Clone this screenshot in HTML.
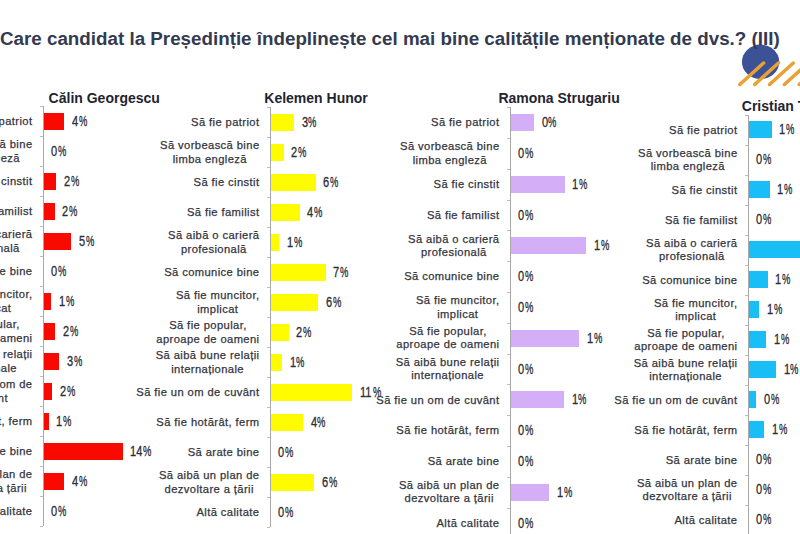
<!DOCTYPE html>
<html><head><meta charset="utf-8"><style>
html,body{margin:0;padding:0;background:#fff;}
body{width:800px;height:534px;overflow:hidden;position:relative;font-family:"Liberation Sans",sans-serif;}
.a{position:absolute;white-space:nowrap;}
.t{font-weight:700;color:#343a50;}
.pt{font-size:14px;line-height:16px;font-weight:700;color:#1f2433;}
.lb{font-size:11.2px;line-height:13.25px;letter-spacing:0.4px;color:#33353d;text-align:center;-webkit-text-stroke:0.25px #33353d;}
.pc{font-size:13.8px;line-height:15px;color:#2b2d36;-webkit-text-stroke:0.3px #2b2d36;transform:scaleX(0.8);transform-origin:0 0;}
.pp{font-size:13.8px;line-height:15px;color:#2b2d36;-webkit-text-stroke:0.3px #2b2d36;transform:scaleX(0.68);transform-origin:0 0;}
.ax{background:#a8a8a8;}
</style></head><body>

<svg class="a" style="left:720px;top:36px" width="80" height="60" viewBox="720 36 80 60"><ellipse cx="760.6" cy="61.8" rx="18.7" ry="17.2" fill="#3b5296"/><g stroke="#e9a131" stroke-width="3.5" stroke-linecap="round"><line x1="739.80" y1="84.5" x2="763.60" y2="63"/><line x1="754.65" y1="84.5" x2="778.45" y2="63"/><line x1="769.50" y1="84.5" x2="793.30" y2="63"/><line x1="784.35" y1="84.5" x2="808.15" y2="63"/><line x1="799.20" y1="84.5" x2="823.00" y2="63"/></g></svg>
<div class="a t" style="left:0px;top:28px;font-size:18.8px;line-height:22px;">Care candidat la Președinție îndeplinește cel mai bine calitățile menționate de dvs.? (III)</div>
<div class="a pt" style="left:48.6px;top:89.65px">Călin Georgescu</div>
<div class="a ax" style="left:43px;top:106.4px;width:1px;height:420.0px"></div>
<div class="a ax" style="left:40px;top:106.40px;width:3px;height:1px;background:#bdbdbd"></div>
<div class="a ax" style="left:40px;top:136.40px;width:3px;height:1px;background:#bdbdbd"></div>
<div class="a ax" style="left:40px;top:166.40px;width:3px;height:1px;background:#bdbdbd"></div>
<div class="a ax" style="left:40px;top:196.40px;width:3px;height:1px;background:#bdbdbd"></div>
<div class="a ax" style="left:40px;top:226.40px;width:3px;height:1px;background:#bdbdbd"></div>
<div class="a ax" style="left:40px;top:256.40px;width:3px;height:1px;background:#bdbdbd"></div>
<div class="a ax" style="left:40px;top:286.40px;width:3px;height:1px;background:#bdbdbd"></div>
<div class="a ax" style="left:40px;top:316.40px;width:3px;height:1px;background:#bdbdbd"></div>
<div class="a ax" style="left:40px;top:346.40px;width:3px;height:1px;background:#bdbdbd"></div>
<div class="a ax" style="left:40px;top:376.40px;width:3px;height:1px;background:#bdbdbd"></div>
<div class="a ax" style="left:40px;top:406.40px;width:3px;height:1px;background:#bdbdbd"></div>
<div class="a ax" style="left:40px;top:436.40px;width:3px;height:1px;background:#bdbdbd"></div>
<div class="a ax" style="left:40px;top:466.40px;width:3px;height:1px;background:#bdbdbd"></div>
<div class="a ax" style="left:40px;top:496.40px;width:3px;height:1px;background:#bdbdbd"></div>
<div class="a ax" style="left:40px;top:526.40px;width:3px;height:1px;background:#bdbdbd"></div>
<div class="a lb" style="right:767.50px;top:115.10px">Să fie patriot</div>
<div class="a" style="left:44px;top:112.70px;width:20px;height:17px;background:#f80a00"></div>
<div class="a pc" style="left:71.80px;top:114.00px">4</div>
<div class="a pp" style="left:78.54px;top:114.00px">%</div>
<div class="a lb" style="right:767.50px;top:138.40px">Să vorbească bine<br>limba engleză</div>
<div class="a pc" style="left:51.30px;top:144.00px">0</div>
<div class="a pp" style="left:58.04px;top:144.00px">%</div>
<div class="a lb" style="right:767.50px;top:175.10px">Să fie cinstit</div>
<div class="a" style="left:44px;top:172.70px;width:12px;height:17px;background:#f80a00"></div>
<div class="a pc" style="left:63.80px;top:174.00px">2</div>
<div class="a pp" style="left:70.54px;top:174.00px">%</div>
<div class="a lb" style="right:767.50px;top:205.10px">Să fie familist</div>
<div class="a" style="left:44px;top:202.70px;width:10.5px;height:17px;background:#f80a00"></div>
<div class="a pc" style="left:62.30px;top:204.00px">2</div>
<div class="a pp" style="left:69.04px;top:204.00px">%</div>
<div class="a lb" style="right:767.50px;top:228.40px">Să aibă o carieră<br>profesională</div>
<div class="a" style="left:44px;top:232.70px;width:27px;height:17px;background:#f80a00"></div>
<div class="a pc" style="left:78.80px;top:234.00px">5</div>
<div class="a pp" style="left:85.54px;top:234.00px">%</div>
<div class="a lb" style="right:767.50px;top:265.10px">Să comunice bine</div>
<div class="a pc" style="left:51.30px;top:264.00px">0</div>
<div class="a pp" style="left:58.04px;top:264.00px">%</div>
<div class="a lb" style="right:767.50px;top:288.40px">Să fie muncitor,<br>implicat</div>
<div class="a" style="left:44px;top:292.70px;width:7px;height:17px;background:#f80a00"></div>
<div class="a pc" style="left:58.80px;top:294.00px">1</div>
<div class="a pp" style="left:65.54px;top:294.00px">%</div>
<div class="a lb" style="right:767.50px;top:318.40px">Să fie popular,<br>aproape de oameni</div>
<div class="a" style="left:44px;top:322.70px;width:11px;height:17px;background:#f80a00"></div>
<div class="a pc" style="left:62.80px;top:324.00px">2</div>
<div class="a pp" style="left:69.54px;top:324.00px">%</div>
<div class="a lb" style="right:767.50px;top:348.40px">Să aibă bune relații<br>internaționale</div>
<div class="a" style="left:44px;top:352.70px;width:15px;height:17px;background:#f80a00"></div>
<div class="a pc" style="left:66.80px;top:354.00px">3</div>
<div class="a pp" style="left:73.54px;top:354.00px">%</div>
<div class="a lb" style="right:767.50px;top:378.40px">Să fie un om de<br>cuvânt</div>
<div class="a" style="left:44px;top:382.70px;width:8px;height:17px;background:#f80a00"></div>
<div class="a pc" style="left:59.80px;top:384.00px">2</div>
<div class="a pp" style="left:66.54px;top:384.00px">%</div>
<div class="a lb" style="right:767.50px;top:415.10px">Să fie hotărât, ferm</div>
<div class="a" style="left:44px;top:412.70px;width:4.5px;height:17px;background:#f80a00"></div>
<div class="a pc" style="left:56.30px;top:414.00px">1</div>
<div class="a pp" style="left:63.04px;top:414.00px">%</div>
<div class="a lb" style="right:767.50px;top:445.10px">Să arate bine</div>
<div class="a" style="left:44px;top:442.70px;width:78.5px;height:17px;background:#f80a00"></div>
<div class="a pc" style="left:130.30px;top:444.00px">14</div>
<div class="a pp" style="left:143.18px;top:444.00px">%</div>
<div class="a lb" style="right:767.50px;top:468.40px">Să aibă un plan de<br>dezvoltare a țării</div>
<div class="a" style="left:44px;top:472.70px;width:20px;height:17px;background:#f80a00"></div>
<div class="a pc" style="left:71.80px;top:474.00px">4</div>
<div class="a pp" style="left:78.54px;top:474.00px">%</div>
<div class="a lb" style="right:767.50px;top:505.10px">Altă calitate</div>
<div class="a pc" style="left:51.30px;top:504.00px">0</div>
<div class="a pp" style="left:58.04px;top:504.00px">%</div>
<div class="a pt" style="left:264.3px;top:89.65px">Kelemen Hunor</div>
<div class="a ax" style="left:270px;top:107.3px;width:1px;height:420.0px"></div>
<div class="a ax" style="left:267px;top:107.30px;width:3px;height:1px;background:#bdbdbd"></div>
<div class="a ax" style="left:267px;top:137.30px;width:3px;height:1px;background:#bdbdbd"></div>
<div class="a ax" style="left:267px;top:167.30px;width:3px;height:1px;background:#bdbdbd"></div>
<div class="a ax" style="left:267px;top:197.30px;width:3px;height:1px;background:#bdbdbd"></div>
<div class="a ax" style="left:267px;top:227.30px;width:3px;height:1px;background:#bdbdbd"></div>
<div class="a ax" style="left:267px;top:257.30px;width:3px;height:1px;background:#bdbdbd"></div>
<div class="a ax" style="left:267px;top:287.30px;width:3px;height:1px;background:#bdbdbd"></div>
<div class="a ax" style="left:267px;top:317.30px;width:3px;height:1px;background:#bdbdbd"></div>
<div class="a ax" style="left:267px;top:347.30px;width:3px;height:1px;background:#bdbdbd"></div>
<div class="a ax" style="left:267px;top:377.30px;width:3px;height:1px;background:#bdbdbd"></div>
<div class="a ax" style="left:267px;top:407.30px;width:3px;height:1px;background:#bdbdbd"></div>
<div class="a ax" style="left:267px;top:437.30px;width:3px;height:1px;background:#bdbdbd"></div>
<div class="a ax" style="left:267px;top:467.30px;width:3px;height:1px;background:#bdbdbd"></div>
<div class="a ax" style="left:267px;top:497.30px;width:3px;height:1px;background:#bdbdbd"></div>
<div class="a ax" style="left:267px;top:527.30px;width:3px;height:1px;background:#bdbdbd"></div>
<div class="a lb" style="right:540.50px;top:116.00px">Să fie patriot</div>
<div class="a" style="left:271px;top:113.60px;width:22.8px;height:17px;background:#fffc00"></div>
<div class="a pc" style="left:301.60px;top:114.90px">3</div>
<div class="a pp" style="left:308.34px;top:114.90px">%</div>
<div class="a lb" style="right:540.50px;top:139.30px">Să vorbească bine<br>limba engleză</div>
<div class="a" style="left:271px;top:143.60px;width:12.5px;height:17px;background:#fffc00"></div>
<div class="a pc" style="left:291.30px;top:144.90px">2</div>
<div class="a pp" style="left:298.04px;top:144.90px">%</div>
<div class="a lb" style="right:540.50px;top:176.00px">Să fie cinstit</div>
<div class="a" style="left:271px;top:173.60px;width:44.5px;height:17px;background:#fffc00"></div>
<div class="a pc" style="left:323.30px;top:174.90px">6</div>
<div class="a pp" style="left:330.04px;top:174.90px">%</div>
<div class="a lb" style="right:540.50px;top:206.00px">Să fie familist</div>
<div class="a" style="left:271px;top:203.60px;width:28.5px;height:17px;background:#fffc00"></div>
<div class="a pc" style="left:307.30px;top:204.90px">4</div>
<div class="a pp" style="left:314.04px;top:204.90px">%</div>
<div class="a lb" style="right:540.50px;top:229.30px">Să aibă o carieră<br>profesională</div>
<div class="a" style="left:271px;top:233.60px;width:8px;height:17px;background:#fffc00"></div>
<div class="a pc" style="left:286.80px;top:234.90px">1</div>
<div class="a pp" style="left:293.54px;top:234.90px">%</div>
<div class="a lb" style="right:540.50px;top:266.00px">Să comunice bine</div>
<div class="a" style="left:271px;top:263.60px;width:54.5px;height:17px;background:#fffc00"></div>
<div class="a pc" style="left:333.30px;top:264.90px">7</div>
<div class="a pp" style="left:340.04px;top:264.90px">%</div>
<div class="a lb" style="right:540.50px;top:289.30px">Să fie muncitor,<br>implicat</div>
<div class="a" style="left:271px;top:293.60px;width:47px;height:17px;background:#fffc00"></div>
<div class="a pc" style="left:325.80px;top:294.90px">6</div>
<div class="a pp" style="left:332.54px;top:294.90px">%</div>
<div class="a lb" style="right:540.50px;top:319.30px">Să fie popular,<br>aproape de oameni</div>
<div class="a" style="left:271px;top:323.60px;width:17.5px;height:17px;background:#fffc00"></div>
<div class="a pc" style="left:296.30px;top:324.90px">2</div>
<div class="a pp" style="left:303.04px;top:324.90px">%</div>
<div class="a lb" style="right:540.50px;top:349.30px">Să aibă bune relații<br>internaționale</div>
<div class="a" style="left:271px;top:353.60px;width:10.7px;height:17px;background:#fffc00"></div>
<div class="a pc" style="left:289.50px;top:354.90px">1</div>
<div class="a pp" style="left:296.24px;top:354.90px">%</div>
<div class="a lb" style="right:540.50px;top:386.00px">Să fie un om de cuvânt</div>
<div class="a" style="left:271px;top:383.60px;width:81px;height:17px;background:#fffc00"></div>
<div class="a pc" style="left:359.80px;top:384.90px">11</div>
<div class="a pp" style="left:372.68px;top:384.90px">%</div>
<div class="a lb" style="right:540.50px;top:416.00px">Să fie hotărât, ferm</div>
<div class="a" style="left:271px;top:413.60px;width:31.7px;height:17px;background:#fffc00"></div>
<div class="a pc" style="left:310.50px;top:414.90px">4</div>
<div class="a pp" style="left:317.24px;top:414.90px">%</div>
<div class="a lb" style="right:540.50px;top:446.00px">Să arate bine</div>
<div class="a pc" style="left:278.30px;top:444.90px">0</div>
<div class="a pp" style="left:285.04px;top:444.90px">%</div>
<div class="a lb" style="right:540.50px;top:469.30px">Să aibă un plan de<br>dezvoltare a țării</div>
<div class="a" style="left:271px;top:473.60px;width:43px;height:17px;background:#fffc00"></div>
<div class="a pc" style="left:321.80px;top:474.90px">6</div>
<div class="a pp" style="left:328.54px;top:474.90px">%</div>
<div class="a lb" style="right:540.50px;top:506.00px">Altă calitate</div>
<div class="a pc" style="left:278.30px;top:504.90px">0</div>
<div class="a pp" style="left:285.04px;top:504.90px">%</div>
<div class="a pt" style="left:498.4px;top:89.85px">Ramona Strugariu</div>
<div class="a ax" style="left:510px;top:107.2px;width:1px;height:431.2px"></div>
<div class="a ax" style="left:507px;top:107.20px;width:3px;height:1px;background:#bdbdbd"></div>
<div class="a ax" style="left:507px;top:138.00px;width:3px;height:1px;background:#bdbdbd"></div>
<div class="a ax" style="left:507px;top:168.80px;width:3px;height:1px;background:#bdbdbd"></div>
<div class="a ax" style="left:507px;top:199.60px;width:3px;height:1px;background:#bdbdbd"></div>
<div class="a ax" style="left:507px;top:230.40px;width:3px;height:1px;background:#bdbdbd"></div>
<div class="a ax" style="left:507px;top:261.20px;width:3px;height:1px;background:#bdbdbd"></div>
<div class="a ax" style="left:507px;top:292.00px;width:3px;height:1px;background:#bdbdbd"></div>
<div class="a ax" style="left:507px;top:322.80px;width:3px;height:1px;background:#bdbdbd"></div>
<div class="a ax" style="left:507px;top:353.60px;width:3px;height:1px;background:#bdbdbd"></div>
<div class="a ax" style="left:507px;top:384.40px;width:3px;height:1px;background:#bdbdbd"></div>
<div class="a ax" style="left:507px;top:415.20px;width:3px;height:1px;background:#bdbdbd"></div>
<div class="a ax" style="left:507px;top:446.00px;width:3px;height:1px;background:#bdbdbd"></div>
<div class="a ax" style="left:507px;top:476.80px;width:3px;height:1px;background:#bdbdbd"></div>
<div class="a ax" style="left:507px;top:507.60px;width:3px;height:1px;background:#bdbdbd"></div>
<div class="a ax" style="left:507px;top:538.40px;width:3px;height:1px;background:#bdbdbd"></div>
<div class="a lb" style="right:300.50px;top:116.30px">Să fie patriot</div>
<div class="a" style="left:511px;top:113.90px;width:22.7px;height:17px;background:#d5aef8"></div>
<div class="a pc" style="left:541.50px;top:115.20px">0</div>
<div class="a pp" style="left:548.24px;top:115.20px">%</div>
<div class="a lb" style="right:300.50px;top:140.40px">Să vorbească bine<br>limba engleză</div>
<div class="a pc" style="left:518.30px;top:146.00px">0</div>
<div class="a pp" style="left:525.04px;top:146.00px">%</div>
<div class="a lb" style="right:300.50px;top:177.90px">Să fie cinstit</div>
<div class="a" style="left:511px;top:175.50px;width:53.6px;height:17px;background:#d5aef8"></div>
<div class="a pc" style="left:572.40px;top:176.80px">1</div>
<div class="a pp" style="left:579.14px;top:176.80px">%</div>
<div class="a lb" style="right:300.50px;top:208.70px">Să fie familist</div>
<div class="a pc" style="left:518.30px;top:207.60px">0</div>
<div class="a pp" style="left:525.04px;top:207.60px">%</div>
<div class="a lb" style="right:300.50px;top:232.80px">Să aibă o carieră<br>profesională</div>
<div class="a" style="left:511px;top:237.10px;width:75.4px;height:17px;background:#d5aef8"></div>
<div class="a pc" style="left:594.20px;top:238.40px">1</div>
<div class="a pp" style="left:600.94px;top:238.40px">%</div>
<div class="a lb" style="right:300.50px;top:270.30px">Să comunice bine</div>
<div class="a pc" style="left:518.30px;top:269.20px">0</div>
<div class="a pp" style="left:525.04px;top:269.20px">%</div>
<div class="a lb" style="right:300.50px;top:294.40px">Să fie muncitor,<br>implicat</div>
<div class="a pc" style="left:518.30px;top:300.00px">0</div>
<div class="a pp" style="left:525.04px;top:300.00px">%</div>
<div class="a lb" style="right:300.50px;top:325.20px">Să fie popular,<br>aproape de oameni</div>
<div class="a" style="left:511px;top:329.50px;width:68.3px;height:17px;background:#d5aef8"></div>
<div class="a pc" style="left:587.10px;top:330.80px">1</div>
<div class="a pp" style="left:593.84px;top:330.80px">%</div>
<div class="a lb" style="right:300.50px;top:356.00px">Să aibă bune relații<br>internaționale</div>
<div class="a pc" style="left:518.30px;top:361.60px">0</div>
<div class="a pp" style="left:525.04px;top:361.60px">%</div>
<div class="a lb" style="right:300.50px;top:393.50px">Să fie un om de cuvânt</div>
<div class="a" style="left:511px;top:391.10px;width:52.7px;height:17px;background:#d5aef8"></div>
<div class="a pc" style="left:571.50px;top:392.40px">1</div>
<div class="a pp" style="left:578.24px;top:392.40px">%</div>
<div class="a lb" style="right:300.50px;top:424.30px">Să fie hotărât, ferm</div>
<div class="a pc" style="left:518.30px;top:423.20px">0</div>
<div class="a pp" style="left:525.04px;top:423.20px">%</div>
<div class="a lb" style="right:300.50px;top:455.10px">Să arate bine</div>
<div class="a pc" style="left:518.30px;top:454.00px">0</div>
<div class="a pp" style="left:525.04px;top:454.00px">%</div>
<div class="a lb" style="right:300.50px;top:479.20px">Să aibă un plan de<br>dezvoltare a țării</div>
<div class="a" style="left:511px;top:483.50px;width:38px;height:17px;background:#d5aef8"></div>
<div class="a pc" style="left:556.80px;top:484.80px">1</div>
<div class="a pp" style="left:563.54px;top:484.80px">%</div>
<div class="a lb" style="right:300.50px;top:516.70px">Altă calitate</div>
<div class="a pc" style="left:518.30px;top:515.60px">0</div>
<div class="a pp" style="left:525.04px;top:515.60px">%</div>
<div class="a pt" style="left:741.8px;top:97.75px">Cristian Terheș</div>
<div class="a ax" style="left:748px;top:114.8px;width:1px;height:420.0px"></div>
<div class="a ax" style="left:745px;top:114.80px;width:3px;height:1px;background:#bdbdbd"></div>
<div class="a ax" style="left:745px;top:144.80px;width:3px;height:1px;background:#bdbdbd"></div>
<div class="a ax" style="left:745px;top:174.80px;width:3px;height:1px;background:#bdbdbd"></div>
<div class="a ax" style="left:745px;top:204.80px;width:3px;height:1px;background:#bdbdbd"></div>
<div class="a ax" style="left:745px;top:234.80px;width:3px;height:1px;background:#bdbdbd"></div>
<div class="a ax" style="left:745px;top:264.80px;width:3px;height:1px;background:#bdbdbd"></div>
<div class="a ax" style="left:745px;top:294.80px;width:3px;height:1px;background:#bdbdbd"></div>
<div class="a ax" style="left:745px;top:324.80px;width:3px;height:1px;background:#bdbdbd"></div>
<div class="a ax" style="left:745px;top:354.80px;width:3px;height:1px;background:#bdbdbd"></div>
<div class="a ax" style="left:745px;top:384.80px;width:3px;height:1px;background:#bdbdbd"></div>
<div class="a ax" style="left:745px;top:414.80px;width:3px;height:1px;background:#bdbdbd"></div>
<div class="a ax" style="left:745px;top:444.80px;width:3px;height:1px;background:#bdbdbd"></div>
<div class="a ax" style="left:745px;top:474.80px;width:3px;height:1px;background:#bdbdbd"></div>
<div class="a ax" style="left:745px;top:504.80px;width:3px;height:1px;background:#bdbdbd"></div>
<div class="a ax" style="left:745px;top:534.80px;width:3px;height:1px;background:#bdbdbd"></div>
<div class="a lb" style="right:62.50px;top:123.50px">Să fie patriot</div>
<div class="a" style="left:749px;top:121.10px;width:22.6px;height:17px;background:#18bef5"></div>
<div class="a pc" style="left:779.40px;top:122.40px">1</div>
<div class="a pp" style="left:786.14px;top:122.40px">%</div>
<div class="a lb" style="right:62.50px;top:146.80px">Să vorbească bine<br>limba engleză</div>
<div class="a pc" style="left:756.30px;top:152.40px">0</div>
<div class="a pp" style="left:763.04px;top:152.40px">%</div>
<div class="a lb" style="right:62.50px;top:183.50px">Să fie cinstit</div>
<div class="a" style="left:749px;top:181.10px;width:20.6px;height:17px;background:#18bef5"></div>
<div class="a pc" style="left:777.40px;top:182.40px">1</div>
<div class="a pp" style="left:784.14px;top:182.40px">%</div>
<div class="a lb" style="right:62.50px;top:213.50px">Să fie familist</div>
<div class="a pc" style="left:756.30px;top:212.40px">0</div>
<div class="a pp" style="left:763.04px;top:212.40px">%</div>
<div class="a lb" style="right:62.50px;top:236.80px">Să aibă o carieră<br>profesională</div>
<div class="a" style="left:749px;top:241.10px;width:80px;height:17px;background:#18bef5"></div>
<div class="a pc" style="left:836.80px;top:242.40px">3</div>
<div class="a pp" style="left:843.54px;top:242.40px">%</div>
<div class="a lb" style="right:62.50px;top:273.50px">Să comunice bine</div>
<div class="a" style="left:749px;top:271.10px;width:18.5px;height:17px;background:#18bef5"></div>
<div class="a pc" style="left:775.30px;top:272.40px">1</div>
<div class="a pp" style="left:782.04px;top:272.40px">%</div>
<div class="a lb" style="right:62.50px;top:296.80px">Să fie muncitor,<br>implicat</div>
<div class="a" style="left:749px;top:301.10px;width:10px;height:17px;background:#18bef5"></div>
<div class="a pc" style="left:766.80px;top:302.40px">1</div>
<div class="a pp" style="left:773.54px;top:302.40px">%</div>
<div class="a lb" style="right:62.50px;top:326.80px">Să fie popular,<br>aproape de oameni</div>
<div class="a" style="left:749px;top:331.10px;width:17px;height:17px;background:#18bef5"></div>
<div class="a pc" style="left:773.80px;top:332.40px">1</div>
<div class="a pp" style="left:780.54px;top:332.40px">%</div>
<div class="a lb" style="right:62.50px;top:356.80px">Să aibă bune relații<br>internaționale</div>
<div class="a" style="left:749px;top:361.10px;width:26.7px;height:17px;background:#18bef5"></div>
<div class="a pc" style="left:783.50px;top:362.40px">1</div>
<div class="a pp" style="left:790.24px;top:362.40px">%</div>
<div class="a lb" style="right:62.50px;top:393.50px">Să fie un om de cuvânt</div>
<div class="a" style="left:749px;top:391.10px;width:7.4px;height:17px;background:#18bef5"></div>
<div class="a pc" style="left:764.20px;top:392.40px">0</div>
<div class="a pp" style="left:770.94px;top:392.40px">%</div>
<div class="a lb" style="right:62.50px;top:423.50px">Să fie hotărât, ferm</div>
<div class="a" style="left:749px;top:421.10px;width:15px;height:17px;background:#18bef5"></div>
<div class="a pc" style="left:771.80px;top:422.40px">1</div>
<div class="a pp" style="left:778.54px;top:422.40px">%</div>
<div class="a lb" style="right:62.50px;top:453.50px">Să arate bine</div>
<div class="a pc" style="left:756.30px;top:452.40px">0</div>
<div class="a pp" style="left:763.04px;top:452.40px">%</div>
<div class="a lb" style="right:62.50px;top:476.80px">Să aibă un plan de<br>dezvoltare a țării</div>
<div class="a pc" style="left:756.30px;top:482.40px">0</div>
<div class="a pp" style="left:763.04px;top:482.40px">%</div>
<div class="a lb" style="right:62.50px;top:513.50px">Altă calitate</div>
<div class="a pc" style="left:756.30px;top:512.40px">0</div>
<div class="a pp" style="left:763.04px;top:512.40px">%</div>
</body></html>
